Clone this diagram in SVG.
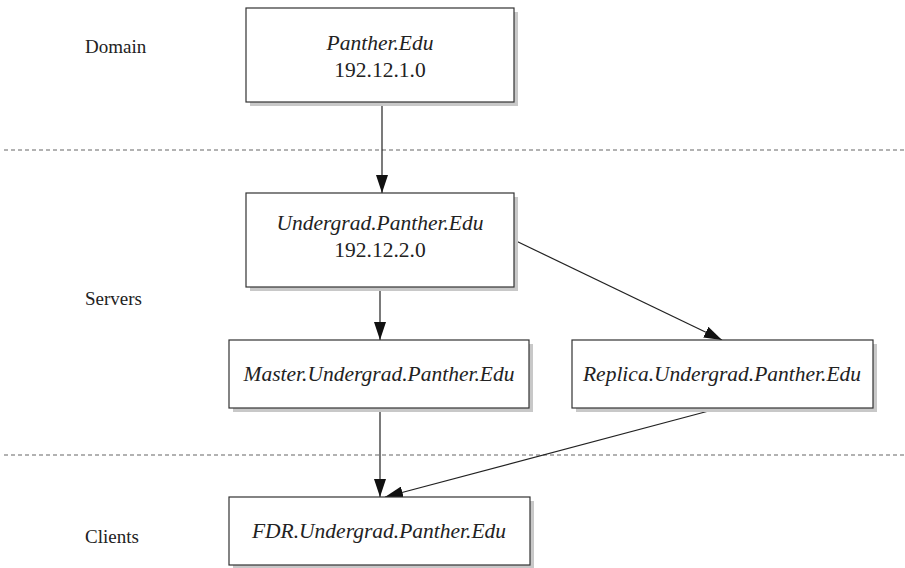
<svg xmlns="http://www.w3.org/2000/svg" width="905" height="568" viewBox="0 0 905 568">
<style>
.box{fill:#fff;stroke:#333;stroke-width:1.2}
.sh{fill:#c8c8c8}
.t{font-family:"Liberation Serif",serif;font-size:21.5px;fill:#222;text-anchor:middle}
.i{font-style:italic}
.lbl{font-family:"Liberation Serif",serif;font-size:19px;fill:#222}
.dash{stroke:#666;stroke-width:1.2;stroke-dasharray:4 3}
.c{stroke:#222;stroke-width:1.2;fill:none;marker-end:url(#ah)}
</style>
<defs>
<marker id="ah" viewBox="0 0 18 12" refX="18" refY="6" markerWidth="18" markerHeight="12" markerUnits="userSpaceOnUse" orient="auto">
<path d="M0,0 L18,6 L0,12 Z" fill="#111"/>
</marker>
</defs>
<rect width="905" height="568" fill="#fff"/>
<g id="separators">
<line class="dash" x1="4" y1="150" x2="905" y2="150"/>
<line class="dash" x1="4" y1="455" x2="905" y2="455"/>
</g>
<g id="labels">
<text class="lbl" x="85" y="53">Domain</text>
<text class="lbl" x="85" y="305">Servers</text>
<text class="lbl" x="85" y="543">Clients</text>
</g>
<g id="connectors">
<line class="c" x1="382" y1="102" x2="382" y2="193"/>
<line class="c" x1="380" y1="287" x2="380" y2="340"/>
<line class="c" x1="514" y1="240" x2="722" y2="340"/>
<line class="c" x1="380" y1="408" x2="380" y2="497"/>
<line class="c" x1="720" y1="408" x2="385" y2="497"/>
</g>
<g id="panther">
<rect class="sh" x="250" y="12" width="268" height="94"/>
<rect class="box" x="246" y="8" width="268" height="94"/>
<text class="t i" x="380" y="50">Panther.Edu</text>
<text class="t" x="380" y="77">192.12.1.0</text>
</g>
<g id="undergrad">
<rect class="sh" x="250" y="197" width="268" height="94"/>
<rect class="box" x="246" y="193" width="268" height="94"/>
<text class="t i" x="380" y="230">Undergrad.Panther.Edu</text>
<text class="t" x="380" y="257">192.12.2.0</text>
</g>
<g id="master">
<rect class="sh" x="233" y="344" width="300" height="68"/>
<rect class="box" x="229" y="340" width="300" height="68"/>
<text class="t i" x="379" y="381">Master.Undergrad.Panther.Edu</text>
</g>
<g id="replica">
<rect class="sh" x="576" y="344" width="301" height="68"/>
<rect class="box" x="572" y="340" width="301" height="68"/>
<text class="t i" x="722" y="381">Replica.Undergrad.Panther.Edu</text>
</g>
<g id="fdr">
<rect class="sh" x="233" y="501" width="301" height="68"/>
<rect class="box" x="229" y="497" width="301" height="68"/>
<text class="t i" x="379" y="538">FDR.Undergrad.Panther.Edu</text>
</g>
</svg>
